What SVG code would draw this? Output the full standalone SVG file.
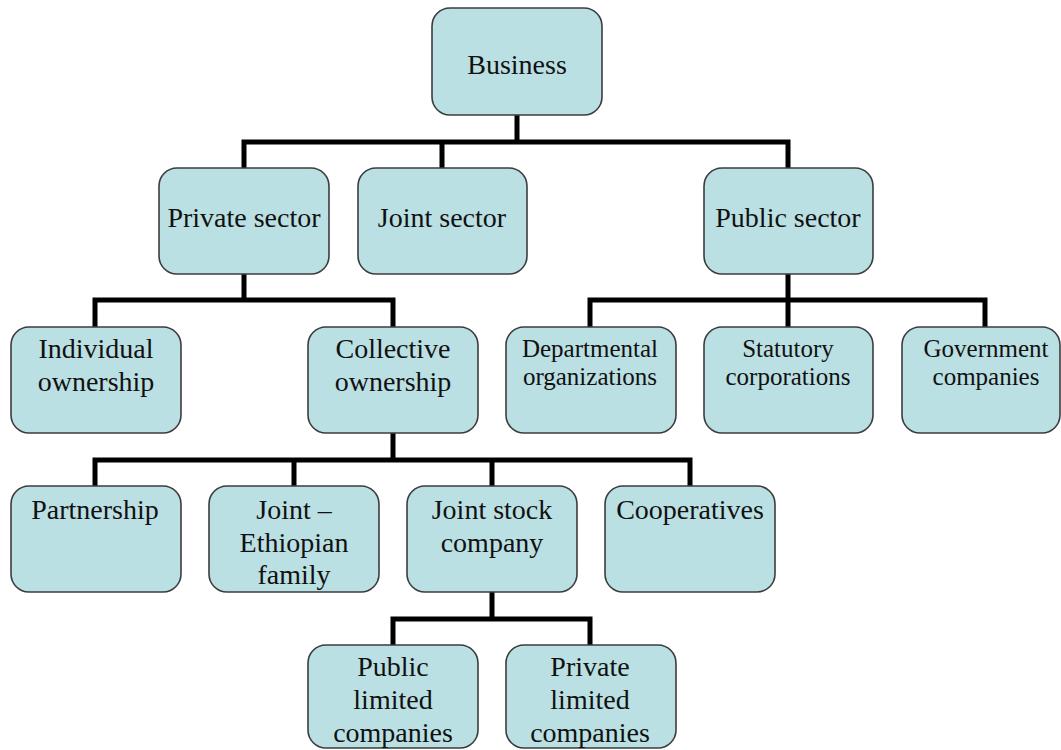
<svg xmlns="http://www.w3.org/2000/svg" width="1061" height="750" viewBox="0 0 1061 750">
<style>
.box{fill:#bae0e3;stroke:#3c3c3c;stroke-width:1.6}
.t{font-family:'Liberation Serif','Times New Roman',serif;font-size:28px;fill:#111;text-anchor:middle}
.s{font-size:25px}
.c{fill:none;stroke:#000;stroke-width:5;stroke-linejoin:miter;stroke-linecap:butt}
</style>
<rect width="1061" height="750" fill="#fff"/>
<g id="connectors">
<path class="c" d="M517,115 V142 M244,168 V142 H788 V168 M442,142 V168"/>
<path class="c" d="M244,274 V300 M95,327 V300 H393 V327"/>
<path class="c" d="M788,274 V327 M590,327 V300 H985 V327"/>
<path class="c" d="M393,433 V460 M95,486 V460 H690 V486 M294,460 V486 M492,460 V486"/>
<path class="c" d="M492,592 V619 M393,645 V619 H590 V645"/>
</g>
<g id="business"><rect class="box" x="432" y="8" width="170" height="107" rx="18"/><text class="t" x="517" y="74">Business</text></g>
<g id="private-sector"><rect class="box" x="159" y="168" width="170" height="106" rx="18"/><text class="t" x="244" y="227">Private sector</text></g>
<g id="joint-sector"><rect class="box" x="358" y="168" width="169" height="106" rx="18"/><text class="t" x="442" y="227">Joint sector</text></g>
<g id="public-sector"><rect class="box" x="704" y="168" width="169" height="106" rx="18"/><text class="t" x="788" y="227">Public sector</text></g>
<g id="individual-ownership"><rect class="box" x="11" y="327" width="170" height="106" rx="18"/><text class="t" x="96" y="358">Individual</text><text class="t" x="96" y="391">ownership</text></g>
<g id="collective-ownership"><rect class="box" x="308" y="327" width="170" height="106" rx="18"/><text class="t" x="393" y="358">Collective</text><text class="t" x="393" y="391">ownership</text></g>
<g id="departmental-organizations"><rect class="box" x="506" y="327" width="170" height="106" rx="18"/><text class="t s" x="590" y="357">Departmental</text><text class="t s" x="590" y="385">organizations</text></g>
<g id="statutory-corporations"><rect class="box" x="704" y="327" width="169" height="106" rx="18"/><text class="t s" x="788" y="357">Statutory</text><text class="t s" x="788" y="385">corporations</text></g>
<g id="government-companies"><rect class="box" x="902" y="327" width="158" height="106" rx="18"/><text class="t s" x="986" y="357">Government</text><text class="t s" x="986" y="385">companies</text></g>
<g id="partnership"><rect class="box" x="11" y="486" width="170" height="106" rx="18"/><text class="t" x="95" y="519">Partnership</text></g>
<g id="joint-ethiopian-family"><rect class="box" x="209" y="486" width="170" height="106" rx="18"/><text class="t" x="294" y="519">Joint –</text><text class="t" x="294" y="552">Ethiopian</text><text class="t" x="294" y="584">family</text></g>
<g id="joint-stock-company"><rect class="box" x="407" y="486" width="170" height="106" rx="18"/><text class="t" x="492" y="519">Joint stock</text><text class="t" x="492" y="552">company</text></g>
<g id="cooperatives"><rect class="box" x="605" y="486" width="170" height="106" rx="18"/><text class="t" x="690" y="519">Cooperatives</text></g>
<g id="public-limited-companies"><rect class="box" x="308" y="645" width="170" height="103" rx="18"/><text class="t" x="393" y="676">Public</text><text class="t" x="393" y="709">limited</text><text class="t" x="393" y="742">companies</text></g>
<g id="private-limited-companies"><rect class="box" x="506" y="645" width="170" height="103" rx="18"/><text class="t" x="590" y="676">Private</text><text class="t" x="590" y="709">limited</text><text class="t" x="590" y="742">companies</text></g>
</svg>
